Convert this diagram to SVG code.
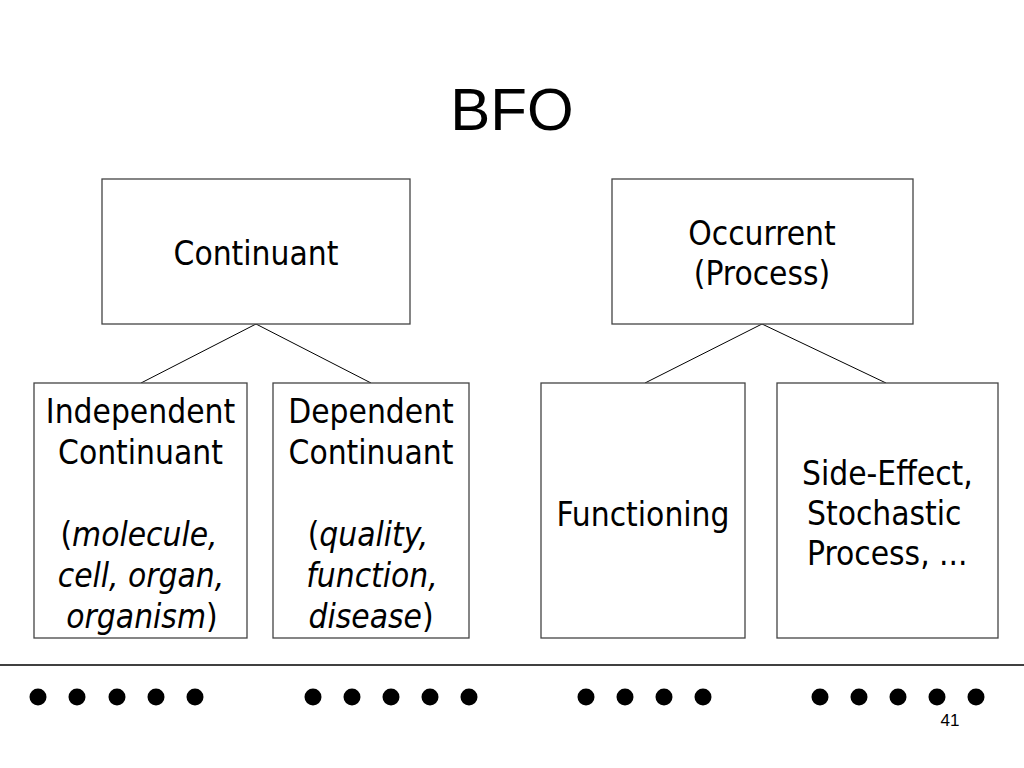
<svg xmlns="http://www.w3.org/2000/svg" width="1024" height="768" viewBox="0 0 1024 768">
<style>
.box{fill:#fff;stroke:#444;stroke-width:1.3}
.t{font-family:"DejaVu Sans Condensed","DejaVu Sans",sans-serif;font-stretch:condensed;font-size:33.2px;fill:#000}
.c{text-anchor:middle}
.i{font-style:italic}
.con line{stroke:#000;stroke-width:1}
.dot{fill:#000}
</style>
<rect width="1024" height="768" fill="#fff"/>
<text x="512" y="130" font-family="Liberation Sans, Arial, sans-serif" font-size="60" text-anchor="middle">BFO</text>

<g id="connectors" class="con">
<line x1="256" y1="324" x2="141" y2="383"/>
<line x1="256" y1="324" x2="371" y2="383"/>
<line x1="762" y1="324" x2="645" y2="383"/>
<line x1="762" y1="324" x2="886" y2="383"/>
</g>

<g id="continuant">
<rect class="box" x="102" y="179" width="308" height="145"/>
<text class="t c" x="256" y="265">Continuant</text>
</g>
<g id="occurrent">
<rect class="box" x="612" y="179" width="301" height="145"/>
<text class="t c" x="762" y="245">Occurrent</text>
<text class="t c" x="762" y="285">(Process)</text>
</g>
<g id="independent">
<rect class="box" x="34" y="383" width="213" height="255"/>
<text class="t c" x="140.5" y="423">Independent</text>
<text class="t c" x="140.5" y="464">Continuant</text>
<text class="t c" x="139" y="546">(<tspan class="i">molecule,</tspan></text>
<text class="t c i" x="141" y="587">cell, organ,</text>
<text class="t c" x="142" y="628"><tspan class="i">organism</tspan>)</text>
</g>
<g id="dependent">
<rect class="box" x="273" y="383" width="196" height="255"/>
<text class="t c" x="371" y="423">Dependent</text>
<text class="t c" x="371" y="464">Continuant</text>
<text class="t c" x="368" y="546">(<tspan class="i">quality,</tspan></text>
<text class="t c i" x="372" y="587">function,</text>
<text class="t c" x="371" y="628"><tspan class="i">disease</tspan>)</text>
</g>
<g id="functioning">
<rect class="box" x="541" y="383" width="204" height="255"/>
<text class="t c" x="643" y="526">Functioning</text>
</g>
<g id="sideeffect">
<rect class="box" x="777" y="383" width="221" height="255"/>
<text class="t" x="802" y="485">Side-Effect,</text>
<text class="t" x="807" y="525">Stochastic</text>
<text class="t" x="807" y="565">Process, ...</text>
</g>

<line x1="0" y1="665" x2="1024" y2="665" stroke="#000" stroke-width="1.5"/>
<g class="dot">
<circle cx="38" cy="697" r="8.5"/><circle cx="77" cy="697" r="8.5"/><circle cx="117" cy="697" r="8.5"/><circle cx="156" cy="697" r="8.5"/><circle cx="195" cy="697" r="8.5"/>
<circle cx="313" cy="697" r="8.5"/><circle cx="352" cy="697" r="8.5"/><circle cx="391" cy="697" r="8.5"/><circle cx="430" cy="697" r="8.5"/><circle cx="469" cy="697" r="8.5"/>
<circle cx="586" cy="697" r="8.5"/><circle cx="625" cy="697" r="8.5"/><circle cx="664" cy="697" r="8.5"/><circle cx="703" cy="697" r="8.5"/>
<circle cx="820" cy="697" r="8.5"/><circle cx="859" cy="697" r="8.5"/><circle cx="898" cy="697" r="8.5"/><circle cx="937" cy="697" r="8.5"/><circle cx="976" cy="697" r="8.5"/>
</g>
<text x="950" y="726" font-family="Liberation Sans Narrow, Liberation Sans, Arial, sans-serif" font-size="17" text-anchor="middle">41</text>
</svg>
